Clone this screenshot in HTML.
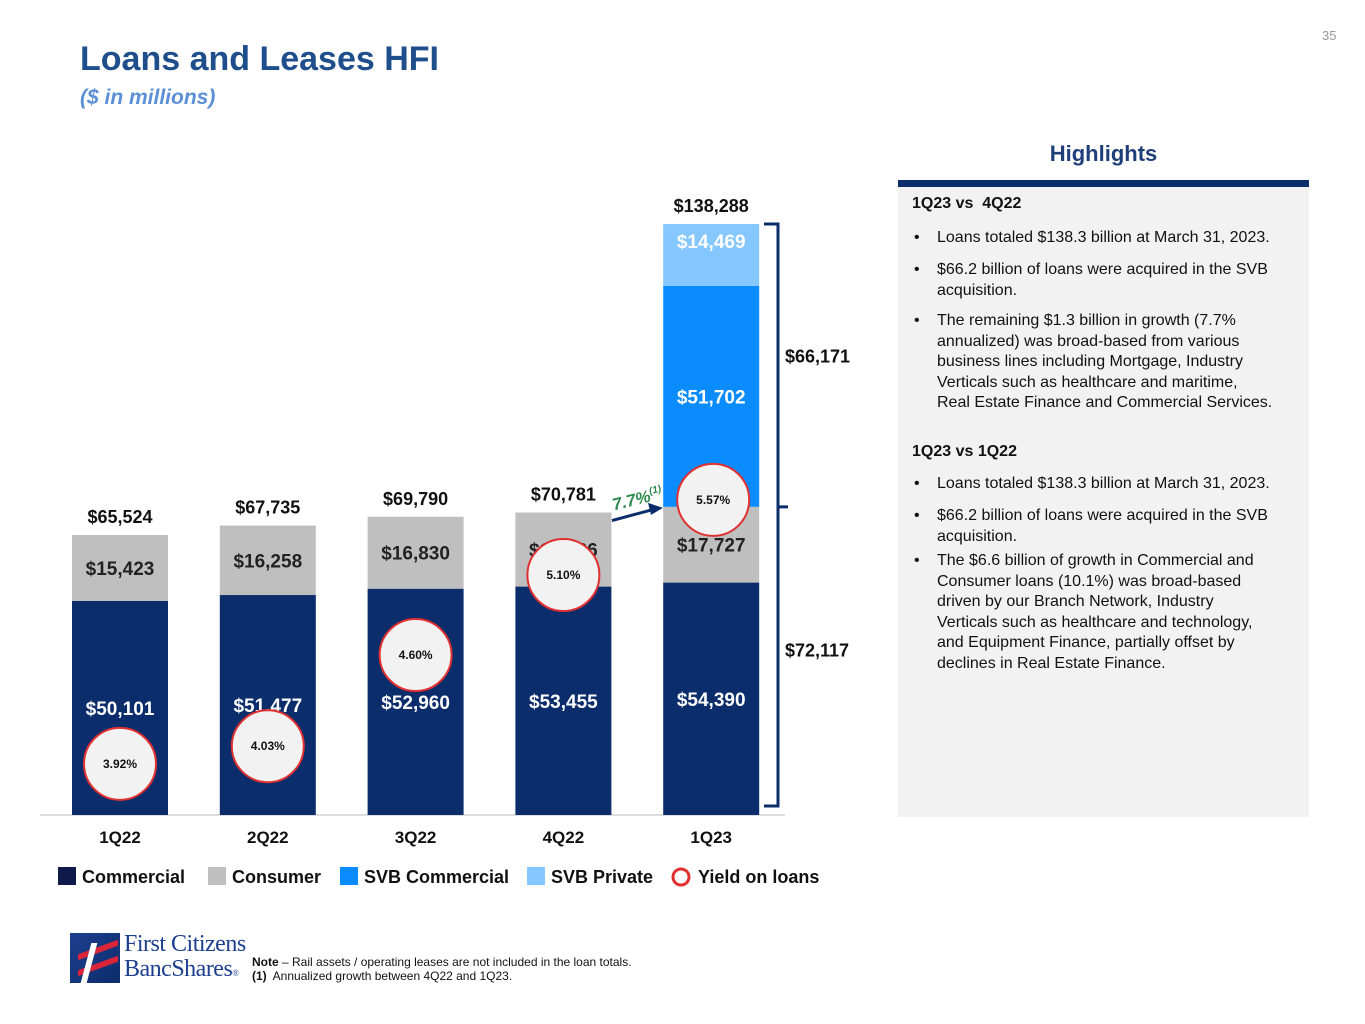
<!DOCTYPE html>
<html><head><meta charset="utf-8">
<style>
body{margin:0;width:1365px;height:1024px;background:#fff;font-family:"Liberation Sans",Arial,sans-serif;position:relative;overflow:hidden}
.abs{position:absolute}
.hl{position:absolute;left:898px;top:180px;width:411px;height:637px;background:#f2f2f2}
.hl .bar{position:absolute;left:0;top:0;width:411px;height:7px;background:#0b2d6b}
.hl p{margin:0;position:absolute;font-size:16px;line-height:20.5px;color:#111}
.hl .h{font-weight:bold;left:14px}
.hl .b{left:39px;width:370px}
.hl .dot{left:16px}
</style></head><body>
<div class="abs" style="left:1322px;top:28px;font-size:13px;color:#999">35</div>
<div class="abs" style="left:80px;top:40px;font-size:34px;font-weight:bold;color:#1f4e8c">Loans and Leases HFI</div>
<div class="abs" style="left:80px;top:86px;font-size:21px;font-weight:bold;font-style:italic;color:#5b8fd6">($ in millions)</div>

<svg class="abs" style="left:0;top:0" width="890" height="900" id="chart"></svg>

<div class="abs" style="left:898px;width:411px;top:141px;text-align:center;font-size:22px;font-weight:bold;color:#1f3f7a">Highlights</div>
<div class="hl">
<div class="bar"></div>
<p class="h" style="top:14px">1Q23 vs &nbsp;4Q22</p>
<p class="dot" style="top:48px">•</p><p class="b" style="top:48px">Loans totaled $138.3 billion at March 31, 2023.</p>
<p class="dot" style="top:80px">•</p><p class="b" style="top:80px">$66.2 billion of loans were acquired in the SVB<br>acquisition.</p>
<p class="dot" style="top:131px">•</p><p class="b" style="top:131px">The remaining $1.3 billion in growth (7.7%<br>annualized) was broad-based from various<br>business lines including Mortgage, Industry<br>Verticals such as healthcare and maritime,<br>Real Estate Finance and Commercial Services.</p>
<p class="h" style="top:262px">1Q23 vs 1Q22</p>
<p class="dot" style="top:294px">•</p><p class="b" style="top:294px">Loans totaled $138.3 billion at March 31, 2023.</p>
<p class="dot" style="top:326px">•</p><p class="b" style="top:326px">$66.2 billion of loans were acquired in the SVB<br>acquisition.</p>
<p class="dot" style="top:371px">•</p><p class="b" style="top:371px">The $6.6 billion of growth in Commercial and<br>Consumer loans (10.1%) was broad-based<br>driven by our Branch Network, Industry<br>Verticals such as healthcare and technology,<br>and Equipment Finance, partially offset by<br>declines in Real Estate Finance.</p>
</div>

<div class="abs" style="left:70px;top:930px;width:180px;height:56px;white-space:nowrap">
<div style="position:absolute;left:0;top:3px;width:50px;height:50px;background:linear-gradient(135deg,#1d3f8f,#0b2d6b);overflow:hidden">
<div style="position:absolute;left:8px;top:14px;width:40px;height:6px;background:#d9243a;transform:skewY(-20deg)"></div>
<div style="position:absolute;left:8px;top:30px;width:40px;height:6px;background:#d9243a;transform:skewY(-20deg)"></div>
<div style="position:absolute;left:16px;top:10px;width:6px;height:40px;background:#fff;transform:skewX(-15deg)"></div>
</div>
<div style="position:absolute;left:54px;top:2px;font-family:'Liberation Serif',serif;font-size:24px;line-height:25px;color:#1d3f8f;letter-spacing:-0.5px">First Citizens<br>BancShares<span style="font-size:9px">®</span></div>
</div>
<div class="abs" style="left:252px;top:955px;font-size:12px;line-height:14px;color:#111"><b>Note</b> – Rail assets / operating leases are not included in the loan totals.<br><b>(1)</b>&nbsp; Annualized growth between 4Q22 and 1Q23.</div>

<script>
const categories=["1Q22","2Q22","3Q22","4Q22","1Q23"];
const commercial=[50101,51477,52960,53455,54390];
const consumer=[15423,16258,16830,17326,17727];
const svbCommercial=[0,0,0,0,51702];
const svbPrivate=[0,0,0,0,14469];
const totals=[65524,67735,69790,70781,138288];
const yields=[3.92,4.03,4.60,5.10,5.57];
const growthLabel="7.7%";

const NS="http://www.w3.org/2000/svg";
const svg=document.getElementById("chart");
const baseY=815, pxPer=280/65524;
function y(v){return baseY-v*pxPer;}
function x(i){return 120+i*147.8;}
function yy(p){return 648-(p-4.644)*160;}
const bw=96;
function el(t,a,txt){const e=document.createElementNS(NS,t);for(const k in a)e.setAttribute(k,a[k]);if(txt!==undefined)e.textContent=txt;svg.appendChild(e);return e;}
function fmt(v){return "$"+v.toLocaleString("en-US");}

el("line",{x1:40,x2:785,y1:baseY,y2:baseY,stroke:"#bbb","stroke-width":1});
const series=[[commercial,"#0b2d6b","#fff","commercial"],[consumer,"#bfbfbf","#222","consumer"],[svbCommercial,"#0a8cff","#fff","svb-commercial"],[svbPrivate,"#85c8ff","#fff","svb-private"]];
categories.forEach((c,i)=>{
  let cum=0;
  series.forEach(s=>{
    const v=s[0][i]; if(!v)return;
    const r=el("rect",{x:x(i)-bw/2,y:y(cum+v),width:bw,height:v*pxPer,fill:s[1]});
    
    
    const ly = s[3]==="svb-private" ? y(cum+v)+24 : y(cum+v/2)+7;
    const t=el("text",{x:x(i),y:ly,"text-anchor":"middle","font-size":19,"font-weight":"bold",fill:s[2]},fmt(v));
    
    
    cum+=v;
  });
  const tt=el("text",{x:x(i),y:y(totals[i])-12,"text-anchor":"middle","font-size":18,"font-weight":"bold",fill:"#111"},fmt(totals[i]));
  
  
  const ct=el("text",{x:x(i),y:843,"text-anchor":"middle","font-size":17,"font-weight":"bold",fill:"#111"},c);
  
  
  const cy=yy(yields[i]);
  const ci=el("circle",{cx:x(i)+(i==4?2:0),cy:cy,r:36,fill:"#f2f2f2",stroke:"#e03030","stroke-width":2});
  
  
  const yt=el("text",{x:x(i)+(i==4?2:0),y:cy+4,"text-anchor":"middle","font-size":12,"font-weight":"bold",fill:"#111"},yields[i].toFixed(2)+"%");
  
  
});
// bracket for 1Q23
const bTop=y(totals[4]), bMid=y(commercial[4]+consumer[4]), bBot=baseY-9;
const br=el("path",{d:`M764 ${bTop} H778 V${bBot} H764 M778 ${bMid} H788`,fill:"none",stroke:"#0b2d6b","stroke-width":3});


const b1=el("text",{x:785,y:(bTop+bMid)/2-3,"font-size":18,"font-weight":"bold",fill:"#111"},fmt(svbCommercial[4]+svbPrivate[4]));


const b2=el("text",{x:785,y:(bMid+bBot)/2+0,"font-size":18,"font-weight":"bold",fill:"#111"},fmt(commercial[4]+consumer[4]));


// growth arrow
const ay1=y(totals[3])+8, ay2=bMid;
const ar=el("path",{d:`M612 ${ay1} L652 ${ay2+3}`,stroke:"#0b2d6b","stroke-width":3,fill:"none"});


const ah=el("path",{d:`M663 ${ay2+1} L648 ${ay2-4} L651 ${ay2+8} Z`,fill:"#0b2d6b"});


const g=el("text",{x:614,y:ay1-10,"font-size":17,"font-weight":"bold","font-style":"italic",fill:"#2e8b4e",transform:`rotate(-14 614 ${ay1-10})`},growthLabel);


const gs=document.createElementNS(NS,"tspan");gs.setAttribute("font-size",10);gs.setAttribute("dy",-7);gs.textContent="(1)";g.appendChild(gs);
// legend
const legend=[["Commercial","#0d1a4a",58],["Consumer","#bfbfbf",208],["SVB Commercial","#0a8cff",340],["SVB Private","#85c8ff",527]];
legend.forEach(l=>{
  const r=el("rect",{x:l[2],y:867,width:18,height:18,fill:l[1]});
  
  
  const t=el("text",{x:l[2]+24,y:883,"font-size":18,"font-weight":"bold",fill:"#111"},l[0]);
  
  
});
const lc=el("circle",{cx:681,cy:877,r:8,fill:"none",stroke:"#e03030","stroke-width":3});


const lt=el("text",{x:698,y:883,"font-size":18,"font-weight":"bold",fill:"#111"},"Yield on loans");


</script>
</body></html>
